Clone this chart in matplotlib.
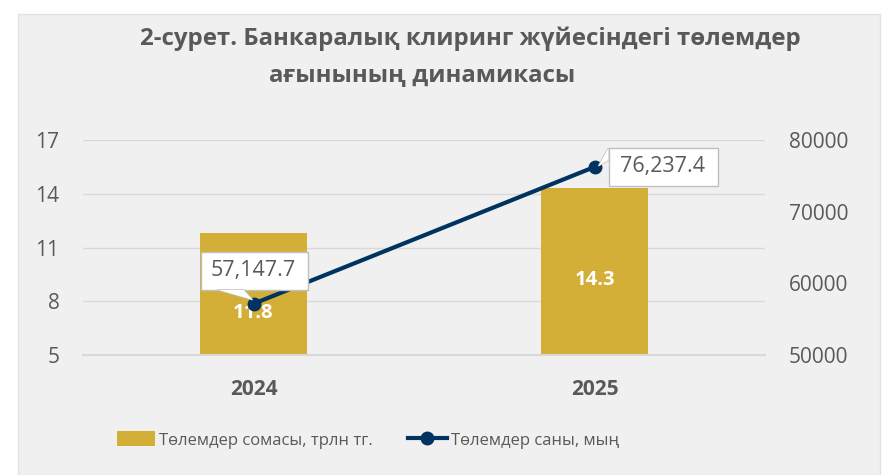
import numpy as np
import matplotlib
matplotlib.use('Agg')
import matplotlib.pyplot as plt
from matplotlib.patches import Rectangle, Polygon, Patch
from matplotlib.lines import Line2D

# Data
years = ['2024', '2025']
sums = [11.8, 14.3]            # трлн тг.
counts = [57147.7, 76237.4]    # мың

GOLD = '#D4AF37'
NAVY = '#00335F'
GREY = '#595959'
GRID = '#D9D9D9'

plt.rcParams['font.family'] = ['Open Sans', 'DejaVu Sans']

fig = plt.figure(figsize=(8.83, 4.75), dpi=100)
fig.patch.set_facecolor('white')
fig.patches.append(Rectangle((18/883, 0), 862/883, 461/475, transform=fig.transFigure,
                             facecolor='#F0F0F0', edgecolor='#E2E2E2', lw=1, zorder=-10))

ax = fig.add_axes([83/883, 120/475, 682/883, 215/475])
ax.set_facecolor('none')
ax2 = ax.twinx()

x = np.arange(len(years))
ax.bar(x, sums, width=0.314, color=GOLD, zorder=2, bottom=0)
ax.set_ylim(5, 17)
ax.set_yticks([5, 8, 11, 14, 17])
ax.set_xlim(-0.5, 1.5)
ax.set_xticks(x)
ax.set_xticklabels(years, fontweight='bold')
ax.yaxis.grid(True, color=GRID, lw=1, zorder=0)
ax.set_axisbelow(True)
for s in ['top', 'left', 'right']:
    ax.spines[s].set_visible(False)
ax.spines['bottom'].set_color(GRID)
ax.spines['bottom'].set_linewidth(1.5)
ax.tick_params(axis='both', length=0, labelsize=15, colors=GREY)
ax.tick_params(axis='y', pad=17)
ax.tick_params(axis='x', pad=17)

# bar value labels (white, bold)
bar_lab_y = [7.35, 9.2]
for xi, v, ly in zip(x, sums, bar_lab_y):
    ax.text(xi, ly, f'{v:.1f}', ha='center', va='center', color='white',
            fontsize=14.5, fontweight='bold', zorder=3)

ax2.plot(x, counts, color=NAVY, lw=3, marker='o', markersize=9, zorder=3,
         solid_capstyle='round')
ax2.set_ylim(50000, 80000)
ax2.set_yticks([50000, 60000, 70000, 80000])
for s in ['top', 'left', 'right', 'bottom']:
    ax2.spines[s].set_visible(False)
ax2.tick_params(axis='y', length=0, labelsize=15, colors=GREY, pad=17)

# callout labels (pixel offsets from the point: box, pointer, text)
callouts = [
    dict(box=(-53, 14, 107, 38), ptr=[(-36, 14), (-10, 14), (-1, 4)], txt=(0, 33)),
    dict(box=(14, -19, 109, 38), ptr=[(14, 19), (14, 7), (4, 1)], txt=(68, 0)),
]
fig.canvas.draw()
for xi, v, c in zip(x, counts, callouts):
    px, py = ax2.transData.transform((xi, v))
    bx, by, bw, bh = c['box']
    verts = [(px + bx, py + by), (px + bx + bw, py + by),
             (px + bx + bw, py + by + bh), (px + bx, py + by + bh)]
    fig.patches.append(Polygon(verts, closed=True, transform=None, facecolor='white',
                               edgecolor='#BFBFBF', lw=1, zorder=5))
    ptr = [(px + a, py + b) for a, b in c['ptr']]
    fig.patches.append(Polygon(ptr, closed=True, transform=None, facecolor='white',
                               edgecolor='#BFBFBF', lw=1, zorder=5))
    # cover the box border where the pointer joins
    fig.patches.append(Polygon([ptr[0], ptr[1], ptr[2]], closed=True, transform=None,
                               facecolor='white', edgecolor='none', zorder=6))
    fig.text((px + c['txt'][0]) / fig.bbox.width, (py + c['txt'][1]) / fig.bbox.height,
             f'{v:,.1f}', ha='center', va='center', fontsize=15.5, color=GREY, zorder=7)

# title
fig.text(470/883, 1 - 39/475, '2-сурет. Банкаралық клиринг жүйесіндегі төлемдер',
         ha='center', va='center', fontsize=17.3, fontweight='bold', color=GREY)
fig.text(422/883, 1 - 76/475, 'ағынының динамикасы',
         ha='center', va='center', fontsize=17.3, fontweight='bold', color=GREY)

# legend
handles = [Patch(facecolor=GOLD, edgecolor='none'),
           Line2D([], [], color=NAVY, lw=3, marker='o', markersize=9)]
labels = ['Төлемдер сомасы, трлн тг.', 'Төлемдер саны, мың']
fig.legend(handles, labels, loc='center', bbox_to_anchor=(368/883, 1 - 440/475),
           ncol=2, frameon=False, fontsize=12, labelcolor=GREY, handlelength=2.3,
           handleheight=1.0, handletextpad=0.25, columnspacing=2.1)

fig.savefig('out.png', dpi=100, facecolor=fig.get_facecolor())
